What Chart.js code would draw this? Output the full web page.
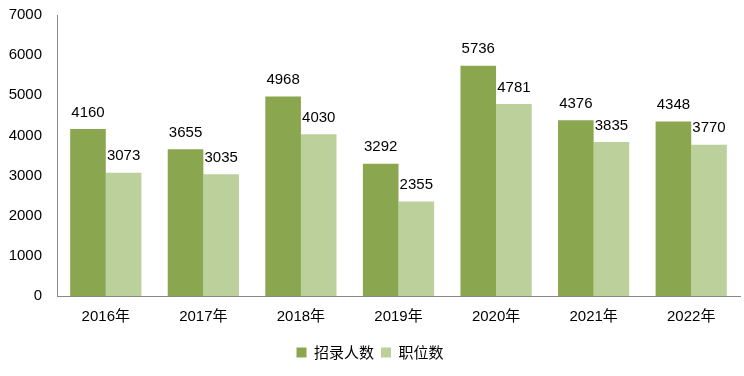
<!DOCTYPE html>
<html><head><meta charset="utf-8">
<script src="https://cdn.jsdelivr.net/npm/chart.js@4/dist/chart.umd.min.js"></script>
<style>html,body{margin:0;padding:0;background:#fff}#wrap{width:744px;height:376px}</style>
</head><body><div id="wrap"><canvas id="c" width="744" height="376"></canvas></div>
<script>
const categories = ["2016年","2017年","2018年","2019年","2020年","2021年","2022年"];
const recruits = [4160,3655,4968,3292,5736,4376,4348];
const positions = [3073,3035,4030,2355,4781,3835,3770];
const seriesNames = ["招录人数","职位数"];
const yTickLabels = ["0","1000","2000","3000","4000","5000","6000","7000"];

const FONT = "'Liberation Sans','Noto Sans CJK SC',sans-serif";
const labelPlugin = {
  id:'vals',
  afterDatasetsDraw(chart){
    const ctx = chart.ctx;
    ctx.save();
    ctx.font = "15px " + FONT;
    ctx.fillStyle = "#000";
    ctx.textAlign = "center";
    ctx.textBaseline = "bottom";
    chart.data.datasets.forEach((ds,i)=>{
      chart.getDatasetMeta(i).data.forEach((bar,j)=>{
        ctx.fillText(String(ds.data[j]), bar.x, bar.y - 9);
      });
    });
    ctx.restore();
  }
};
new Chart(document.getElementById('c'),{
  type:'bar',
  data:{labels:categories,datasets:[
    {label:seriesNames[0],data:recruits,backgroundColor:'#8AA64F',categoryPercentage:0.73,barPercentage:1},
    {label:seriesNames[1],data:positions,backgroundColor:'#BBD09A',categoryPercentage:0.73,barPercentage:1}
  ]},
  options:{
    responsive:false,animation:false,
    layout:{padding:{top:15,right:4,left:0,bottom:6}},
    plugins:{
      tooltip:{enabled:false},
      legend:{position:'bottom',labels:{boxWidth:10,boxHeight:10,padding:7,color:'#000',font:{family:"'Noto Sans CJK SC',sans-serif",size:15}}}
    },
    scales:{
      x:{grid:{display:false,drawTicks:false},border:{color:'#888',width:1},
         ticks:{color:'#000',padding:12,font:{family:FONT,size:15},maxRotation:0}},
      y:{min:0,max:7000,grid:{display:false,drawTicks:false},border:{color:'#888',width:1},
         ticks:{stepSize:1000,color:'#000',padding:15,font:{family:FONT,size:15},
           callback:(v,i)=>yTickLabels[i]},
         afterFit(s){s.width=57;s.paddingTop=0;s.paddingBottom=0;}}
    }
  },
  plugins:[labelPlugin]
});
</script></body></html>
